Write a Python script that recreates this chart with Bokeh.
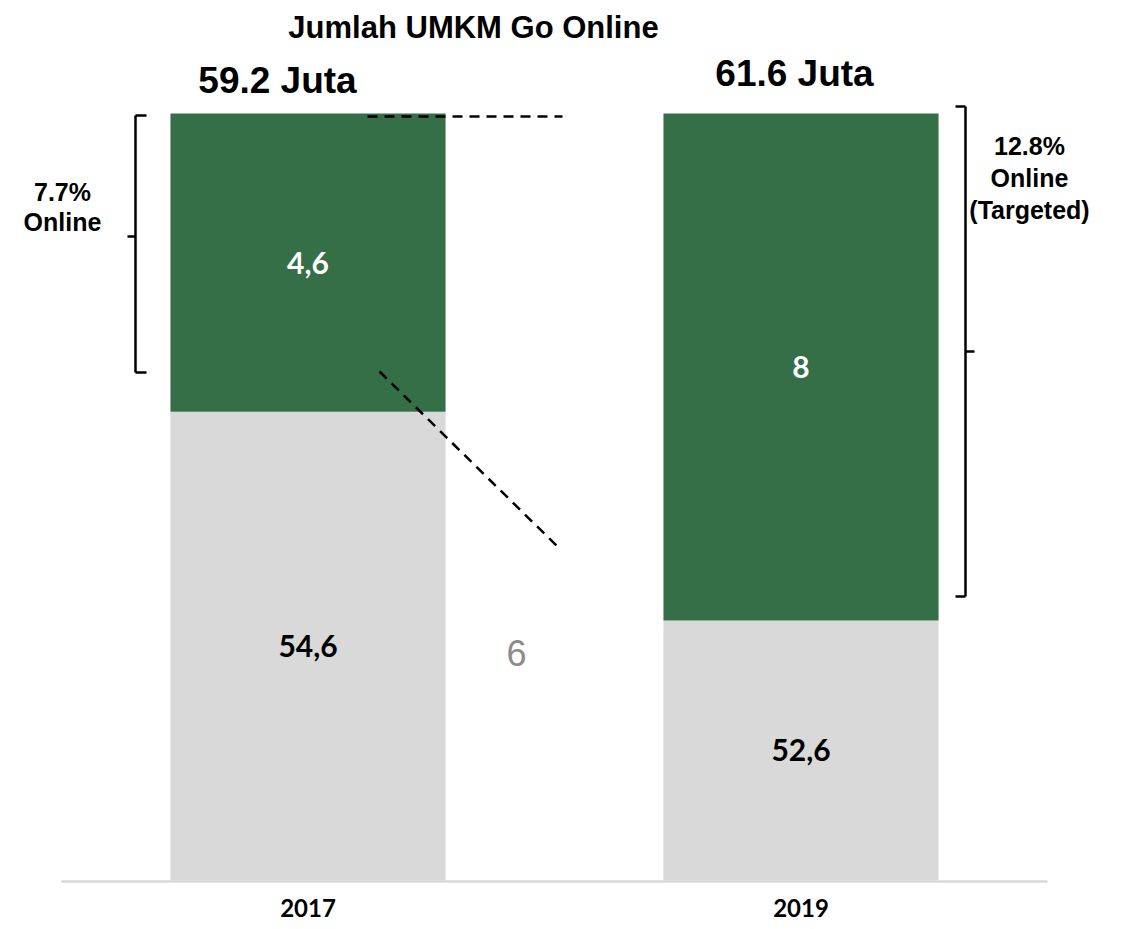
from bokeh.plotting import figure
from bokeh.models import Range1d, FixedTicker
from bokeh.core.properties import value
from bokeh.embed import file_html
from bokeh.resources import INLINE

# ---- data ----
years = ["2017", "2019"]
offline_values = ["54,6", "52,6"]          # label values (juta)
online_values = ["4,6", "8"]               # label values (juta)
totals = ["59.2 Juta", "61.6 Juta"]
# drawn share of each bar (bars are drawn with equal height, not to scale)
offline_share = [61.1, 33.9]
online_share = [38.9, 66.1]
growth_label = "6"
share_labels = ["7.7%\nOnline", "12.8%\nOnline\n(Targeted)"]

GREEN = "#346f47"
GRAY = "#d9d9d9"

W, FRAME_H, BOTTOM = 1106, 884, 43
UNIT_X = 493.0                      # px per category step
UNIT_Y = 7.67                       # px per share unit

def dx(px):
    return (px - 307.5) / UNIT_X

def dy(py):
    return (880 - py) / UNIT_Y

p = figure(frame_width=W, frame_height=FRAME_H, output_backend="svg",
           toolbar_location=None, y_axis_location=None,
           x_range=Range1d(dx(0), dx(W)), y_range=Range1d(dy(FRAME_H), dy(0)),
           min_border_left=0, min_border_right=0, min_border_top=0,
           min_border_bottom=BOTTOM)
p.outline_line_color = None
p.xgrid.visible = False
p.ygrid.visible = False
p.background_fill_color = "white"
p.border_fill_color = "white"

xs = list(range(len(years)))
bw = 0.558
tops2 = [a + b for a, b in zip(offline_share, online_share)]
p.vbar(x=xs, width=bw, bottom=0, top=offline_share, fill_color=GRAY, line_color=None)
p.vbar(x=xs, width=bw, bottom=offline_share, top=tops2, fill_color=GREEN, line_color=None)

# baseline
p.line([dx(61), dx(1047)], [dy(881), dy(881)], line_color=GRAY, line_width=2.5)

# value labels centred in segments
p.text(x=xs, y=[v / 2 for v in offline_share], text=offline_values,
       text_font=value("Lato"), text_font_style="bold", text_font_size="30px",
       text_color="black", text_align="center", text_baseline="middle")
p.text(x=xs, y=[b + t / 2 for b, t in zip(offline_share, online_share)], text=online_values,
       text_font=value("Lato"), text_font_style="bold", text_font_size="30px",
       text_color="white", text_align="center", text_baseline="middle")

# totals above bars
p.text(x=[dx(277), dx(794)], y=[dy(80), dy(73)], text=totals,
       text_font=value("Liberation Sans"), text_font_style="bold", text_font_size="37px",
       text_color="black", text_align="center", text_baseline="middle")

# title
p.text(x=[dx(473)], y=[dy(27)], text=["Jumlah UMKM Go Online"],
       text_font=value("Liberation Sans"), text_font_style="bold", text_font_size="31px",
       text_color="black", text_align="center", text_baseline="middle")

# growth label
p.text(x=[dx(516)], y=[dy(652)], text=[growth_label],
       text_font=value("Liberation Sans"), text_font_size="36px",
       text_color="#8c8c8c", text_align="center", text_baseline="middle")

# bracket labels
p.text(x=[dx(62), dx(62)], y=[dy(191), dy(221)], text=share_labels[0].split("\n"),
       text_font=value("Liberation Sans"), text_font_style="bold", text_font_size="25px",
       text_color="black", text_align="center", text_baseline="middle")
p.text(x=[dx(1029)] * 3, y=[dy(145), dy(177), dy(209)], text=share_labels[1].split("\n"),
       text_font=value("Liberation Sans"), text_font_style="bold", text_font_size="25px",
       text_color="black", text_align="center", text_baseline="middle")

# brackets
def seg(x0, y0, x1, y1):
    p.line([dx(x0), dx(x1)], [dy(y0), dy(y1)], line_color="black", line_width=2.5)

seg(135, 115, 135, 372); seg(135, 115, 146, 115); seg(135, 372, 146, 372); seg(127, 236, 135, 236)
seg(965, 106, 965, 596); seg(955, 106, 965, 106); seg(955, 596, 965, 596); seg(965, 351, 974, 351)

# dashed connectors
p.line([dx(367), dx(562)], [dy(116), dy(116)], line_color="black", line_width=2.5, line_dash="10 7")
p.line([dx(379), dx(557)], [dy(371), dy(546)], line_color="black", line_width=2.5, line_dash="10 7")

# x axis (labels only)
p.xaxis.ticker = FixedTicker(ticks=xs)
p.xaxis.major_label_overrides = {i: y for i, y in zip(xs, years)}
p.xaxis.axis_line_color = None
p.xaxis.major_tick_line_color = None
p.xaxis.minor_tick_line_color = None
p.xaxis.major_label_standoff = 8
p.xaxis.major_label_text_font = "Lato"
p.xaxis.major_label_text_font_style = "bold"
p.xaxis.major_label_text_font_size = "24px"
p.xaxis.major_label_text_color = "black"

open("out.html", "w").write(file_html(p, INLINE))
